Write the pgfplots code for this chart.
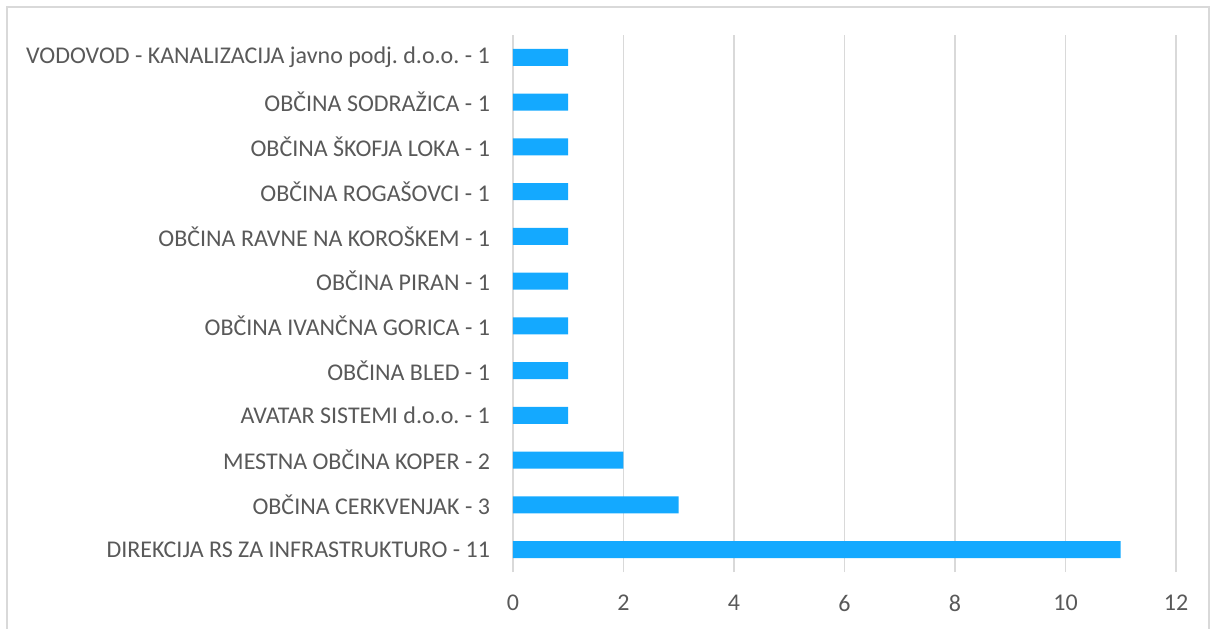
\documentclass[border=0pt]{standalone}
\usepackage{pgfplots}
\pgfplotsset{compat=1.18}
\usepackage{fontspec}
\setmainfont{Carlito}
\definecolor{barblue}{RGB}{20,169,255}
\definecolor{gridgray}{RGB}{217,217,217}
\definecolor{txtgray}{RGB}{89,89,89}
\begin{document}
\frenchspacing
\begin{tikzpicture}
\path[use as bounding box] (0pt,0pt) rectangle (606pt,-314pt);
\draw[gridgray,line width=0.75pt] (3.5pt,-3.5pt) rectangle (604.5pt,-330pt);
\begin{axis}[
  at={(256.5pt,-286pt)}, anchor=south west,
  scale only axis, width=331.5pt, height=268.5pt,
  xmin=0, xmax=12, ymin=-0.5, ymax=11.5,
  xtick={0,2,...,12},
  ytick={0,...,11},
  yticklabels={DIREKCIJA RS ZA INFRASTRUKTURO - 11, OBČINA CERKVENJAK - 3, MESTNA OBČINA KOPER - 2, AVATAR SISTEMI d.o.o. - 1, OBČINA BLED - 1, OBČINA IVANČNA GORICA - 1, OBČINA PIRAN - 1, OBČINA RAVNE NA KOROŠKEM - 1, OBČINA ROGAŠOVCI - 1, OBČINA ŠKOFJA LOKA - 1, OBČINA SODRAŽICA - 1, VODOVOD - KANALIZACIJA javno podj. d.o.o. - 1},
  axis line style={draw=none},
  major tick length=0pt,
  xmajorgrids, major grid style={gridgray, line width=0.8pt},
  ticklabel style={font=\fontsize{12}{14}\selectfont, text=txtgray},
  /pgf/number format/assume math mode=true,
  xticklabel style={yshift=-8pt},
  yticklabel style={xshift=-8pt},
  xbar, bar width=8.5pt,
  clip=false,
]
\addplot[fill=barblue, draw=none] coordinates {
(11,0) (3,1) (2,2) (1,3) (1,4) (1,5) (1,6) (1,7) (1,8) (1,9) (1,10) (1,11)};
\end{axis}
\end{tikzpicture}
\end{document}
